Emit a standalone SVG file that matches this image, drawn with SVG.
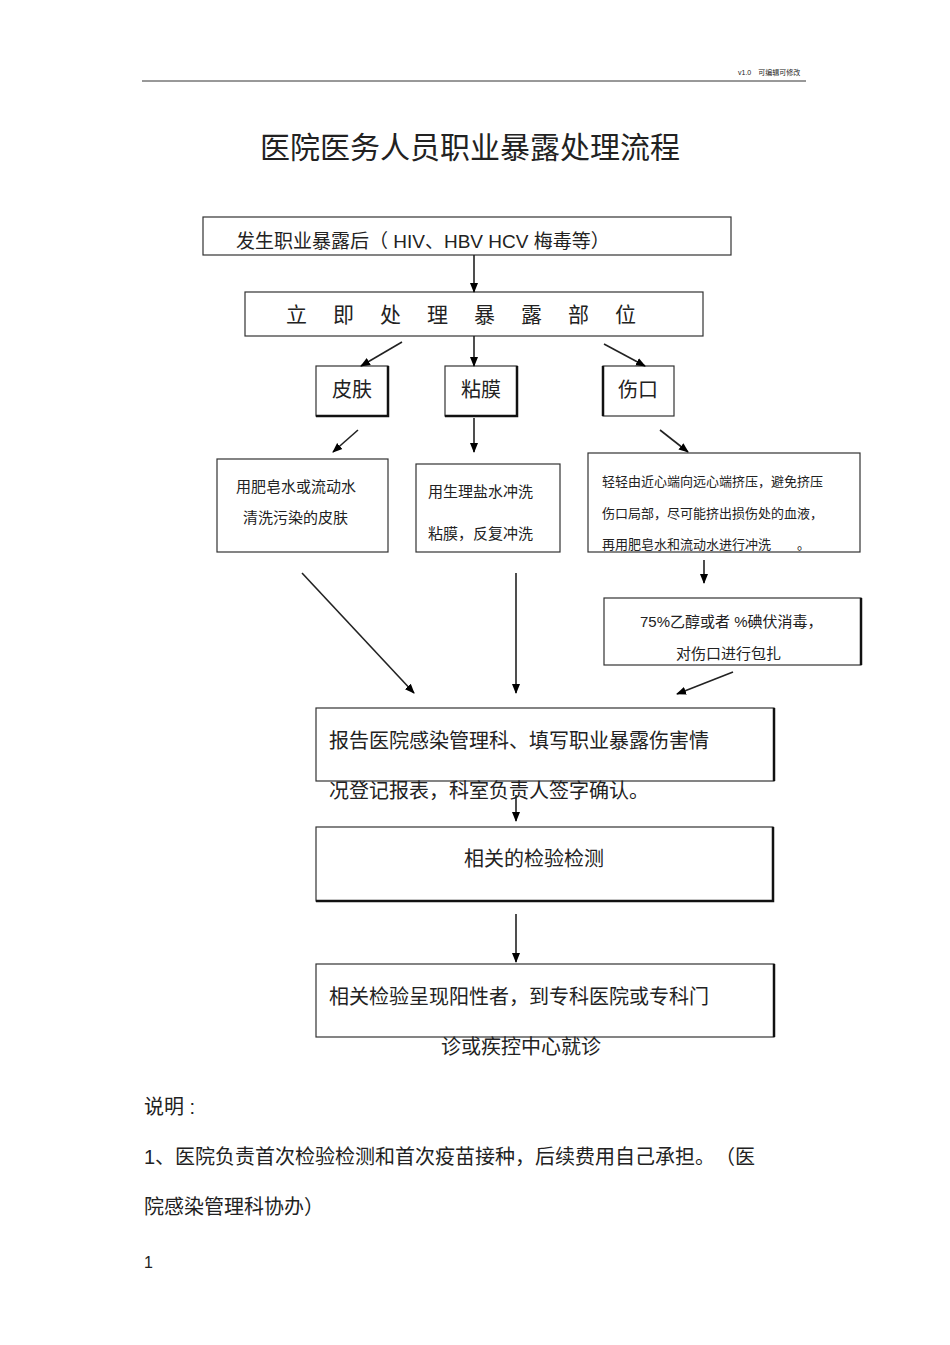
<svg xmlns="http://www.w3.org/2000/svg" width="950" height="1345" viewBox="0 0 950 1345">
<defs>
<marker id="ah" markerWidth="10" markerHeight="10" refX="9" refY="5" orient="auto" markerUnits="userSpaceOnUse"><path d="M0,1 L10,5 L0,9 z" fill="#000"/></marker>
<style>
text{font-family:"Liberation Sans","Noto Sans CJK SC",sans-serif;fill:#222}
.b{fill:#fff;stroke:#333;stroke-width:1.2}
.s{fill:none;stroke:#111;stroke-width:2.5}
.c line{stroke:#222;stroke-width:1.6;marker-end:url(#ah)}
</style>
</defs>
<rect width="950" height="1345" fill="#fff"/>
<line x1="142" y1="81" x2="806" y2="81" stroke="#333" stroke-width="1"/>
<text x="738" y="75" font-size="7">v1.0　可编辑可修改</text>
<text x="470" y="158" font-size="30" text-anchor="middle">医院医务人员职业暴露处理流程</text>
<g id="n1"><rect class="b" x="203" y="217" width="528" height="38"/><text x="236" y="248" font-size="19">发生职业暴露后（  HIV、HBV  HCV  梅毒等）</text></g>
<g id="n2"><rect class="b" x="245" y="292" width="458" height="44"/><text x="474" y="322" font-size="21" text-anchor="middle" letter-spacing="26">立即处理暴露部位</text></g>
<g id="n3"><rect class="b" x="316" y="366" width="72" height="50"/><path class="s" d="M388,366 V416 H316"/><text x="352" y="397" font-size="20" text-anchor="middle">皮肤</text></g>
<g id="n4"><rect class="b" x="445" y="366" width="72" height="50"/><path class="s" d="M517,366 V416 H445"/><text x="481" y="397" font-size="20" text-anchor="middle">粘膜</text></g>
<g id="n5"><rect class="b" x="603" y="366" width="71" height="50"/><path class="s" d="M603,366 V416"/><text x="638" y="397" font-size="20" text-anchor="middle">伤口</text></g>
<g id="n6"><rect class="b" x="217" y="459" width="171" height="93"/><text x="236" y="492" font-size="15">用肥皂水或流动水</text><text x="243" y="523" font-size="15">清洗污染的皮肤</text></g>
<g id="n7"><rect class="b" x="416" y="464" width="144" height="88"/><text x="428" y="497" font-size="15">用生理盐水冲洗</text><text x="428" y="539" font-size="15">粘膜，反复冲洗</text></g>
<g id="n8"><rect class="b" x="588" y="453" width="272" height="99"/><text x="602" y="486" font-size="13">轻轻由近心端向远心端挤压，避免挤压</text><text x="602" y="518" font-size="13">伤口局部，尽可能挤出损伤处的血液，</text><text x="602" y="549" font-size="13">再用肥皂水和流动水进行冲洗　　。</text></g>
<g id="n9"><rect class="b" x="604" y="598" width="257" height="67"/><path class="s" d="M861,598 V665"/><text x="640" y="627" font-size="15">75%乙醇或者  %碘伏消毒，</text><text x="676" y="659" font-size="15">对伤口进行包扎</text></g>
<g id="n10"><rect class="b" x="316" y="708" width="458" height="73"/><path class="s" d="M774,708 V781"/><text x="329" y="748" font-size="20">报告医院感染管理科、填写职业暴露伤害情</text><text x="329" y="798" font-size="20">况登记报表，科室负责人签字确认。</text></g>
<g id="n11"><rect class="b" x="316" y="827" width="457" height="74"/><path class="s" d="M773,827 V901 H316"/><text x="534" y="866" font-size="20" text-anchor="middle">相关的检验检测</text></g>
<g id="n12"><rect class="b" x="316" y="964" width="458" height="73"/><path class="s" d="M774,964 V1037"/><text x="329" y="1004" font-size="20">相关检验呈现阳性者，到专科医院或专科门</text><text x="441" y="1054" font-size="20">诊或疾控中心就诊</text></g>
<g class="c" id="connectors">
<line x1="474" y1="255" x2="474" y2="292"/>
<line x1="402" y1="342" x2="361" y2="366"/>
<line x1="474" y1="336" x2="474" y2="366"/>
<line x1="604" y1="344" x2="645" y2="366"/>
<line x1="358" y1="430" x2="333" y2="452"/>
<line x1="474" y1="418" x2="474" y2="452"/>
<line x1="660" y1="430" x2="688" y2="452"/>
<line x1="704" y1="560" x2="704" y2="583"/>
<line x1="302" y1="573" x2="414" y2="693"/>
<line x1="516" y1="573" x2="516" y2="693"/>
<line x1="733" y1="672" x2="677" y2="694"/>
<line x1="516" y1="795" x2="516" y2="821"/>
<line x1="516" y1="914" x2="516" y2="962"/>
</g>
<text x="144" y="1114" font-size="20">说明 :</text>
<text x="144" y="1164" font-size="20">1、医院负责首次检验检测和首次疫苗接种，后续费用自己承担。　（医</text>
<text x="144" y="1214" font-size="20">院感染管理科协办）</text>
<text x="144" y="1268" font-size="16">1</text>
</svg>
